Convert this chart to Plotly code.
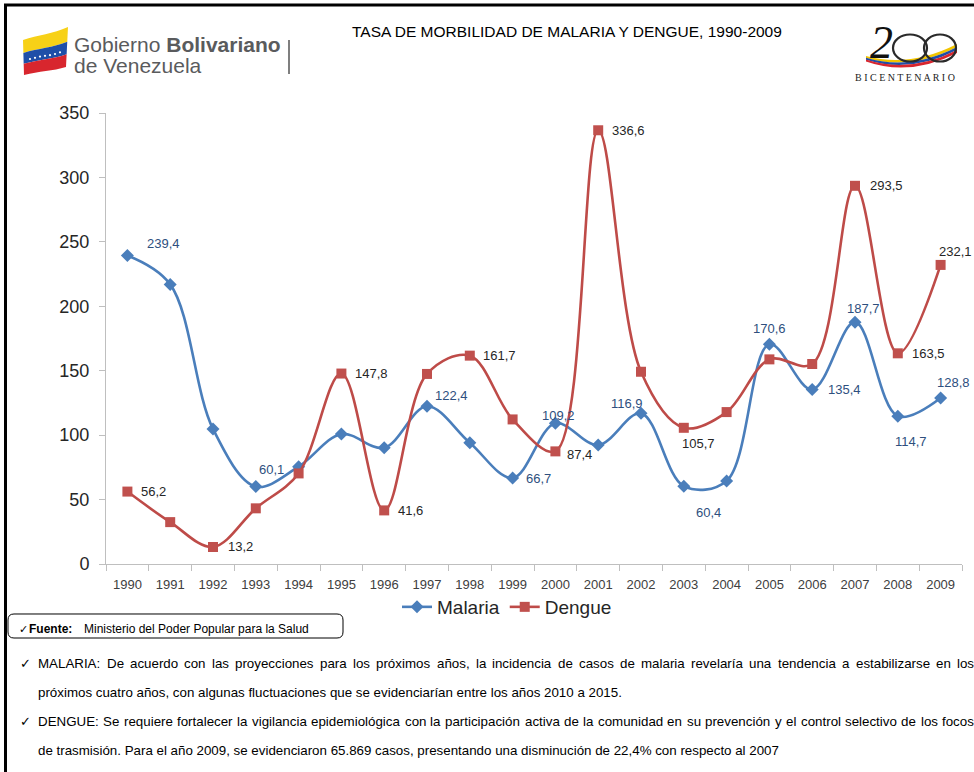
import plotly.graph_objects as go

# ---------------- data ----------------
years = [str(y) for y in range(1990, 2010)]
malaria = [239.4, 217.0, 104.8, 60.1, 75.5, 100.8, 90.2, 122.4, 94.1, 66.7,
           109.2, 92.3, 116.9, 60.4, 64.5, 170.6, 135.4, 187.7, 114.7, 128.8]
dengue = [56.2, 32.5, 13.2, 43.2, 70.3, 147.8, 41.6, 147.5, 161.7, 112.2,
          87.4, 336.6, 149.2, 105.7, 117.9, 158.8, 155.2, 293.5, 163.5, 232.1]
malaria_labeled = ['1990', '1993', '1997', '1999', '2000', '2002', '2003',
                   '2005', '2006', '2007', '2008', '2009']
dengue_labeled = ['1990', '1992', '1995', '1996', '1998', '2000', '2001',
                  '2003', '2007', '2008', '2009']

title = "TASA DE MORBILIDAD DE MALARIA Y DENGUE, 1990-2009"
fuente_label = "Fuente:"
fuente_text = "Ministerio del Poder Popular para la Salud"
notes = [
    "MALARIA: De acuerdo con las proyecciones para los próximos años, la incidencia de casos de malaria revelaría una tendencia a estabilizarse en los",
    "próximos cuatro años, con algunas fluctuaciones que se evidenciarían entre los años 2010 a 2015.",
    "DENGUE: Se requiere fortalecer la vigilancia epidemiológica con la participación activa de la comunidad en su prevención y el control selectivo de los focos",
    "de trasmisión. Para el año 2009, se evidenciaron 65.869 casos, presentando una disminución de 22,4% con respecto al 2007",
]
notes_checked = [True, False, True, False]
notes_justified = [True, False, True, False]

# ---------------- styling ----------------
W, H = 974, 772
ML, MR, MT, MB = 106, 12, 113, 208
PW, PH = W - ML - MR, H - MT - MB
BLUE = "#4A7EBB"
RED = "#BE4B48"
ARIAL = "Liberation Sans, Arial"
SERIF = "Liberation Serif, DejaVu Serif"

# label offsets (pixels: dx right, dy down)
m_off = {'1990': (36, -12), '1993': (16, -17), '1997': (24, -11), '1999': (26, 0),
         '2000': (3, -8), '2002': (-14, -10), '2003': (25, 26), '2005': (0, -16),
         '2006': (32, 0), '2007': (8, -14), '2008': (13, 25), '2009': (13, -16)}
d_off = {'1990': (26, 0), '1992': (27, 0), '1995': (30, 0), '1996': (26, 0),
         '1998': (30, 0), '2000': (24, 3), '2001': (30, 0), '2003': (15, 16),
         '2007': (31, 0), '2008': (31, 0), '2009': (15, -13)}

# Arial / Liberation Sans advance widths (1/1000 em), used to lay out justified text
CW = {' ': 278, ',': 278, '.': 278, ':': 278, '%': 889, '-': 333}
CW.update({d: 556 for d in "0123456789"})
CW.update(dict(zip("ABCDEFGHIJKLMNOPQRSTUVWXYZ",
                   [667, 667, 722, 722, 667, 611, 778, 722, 278, 500, 667, 556, 833, 722, 778, 667,
                    778, 722, 667, 611, 722, 667, 944, 667, 667, 611])))
CW.update(dict(zip("abcdefghijklmnopqrstuvwxyz",
                   [556, 556, 500, 556, 556, 278, 556, 556, 222, 222, 500, 222, 833, 556, 556, 556,
                    556, 333, 500, 278, 556, 500, 722, 500, 500, 500])))
CW.update({'á': 556, 'é': 556, 'í': 278, 'ó': 556, 'ú': 556, 'ñ': 556})


def em(s):
    return sum(CW.get(c, 556) for c in s) / 1000.0


def PX(x):
    return (x - ML) / PW


def PY(y):
    return (H - MB - y) / PH


def fmt(v):
    return f"{v:.1f}".replace('.', ',')


def txt(x, y, text, size, color="#000000", family=ARIAL, xanchor="left"):
    return dict(x=PX(x), y=PY(y), xref="paper", yref="paper", xanchor=xanchor, yanchor="middle",
                text=text, showarrow=False, font=dict(family=family, size=size, color=color))


fig = go.Figure()
fig.add_trace(go.Scatter(x=years, y=malaria, name="Malaria", mode="lines+markers",
                         line=dict(color=BLUE, width=2.6, shape="spline", smoothing=1.0),
                         marker=dict(symbol="diamond", size=10, color=BLUE)))
fig.add_trace(go.Scatter(x=years, y=dengue, name="Dengue", mode="lines+markers",
                         line=dict(color=RED, width=2.6, shape="spline", smoothing=1.0),
                         marker=dict(symbol="square", size=10, color="#C0504D")))

ann = []
for i, (yr, v) in enumerate(zip(years, malaria)):
    if yr in malaria_labeled:
        dx, dy = m_off[yr]
        ann.append(dict(x=i, y=v, xref="x", yref="y", text=fmt(v), showarrow=False,
                        xanchor="center", yanchor="middle", xshift=dx, yshift=-dy,
                        font=dict(family=ARIAL, size=13, color="#2E4F7E")))
for i, (yr, v) in enumerate(zip(years, dengue)):
    if yr in dengue_labeled:
        dx, dy = d_off[yr]
        ann.append(dict(x=i, y=v, xref="x", yref="y", text=fmt(v), showarrow=False,
                        xanchor="center", yanchor="middle", xshift=dx, yshift=-dy,
                        font=dict(family=ARIAL, size=13, color="#262626")))

# title
ann.append(txt(567, 32, title, 15.5, "#000000", xanchor="center"))
# header logo texts
ann.append(txt(72, 45, "Gobierno <b>Bolivariano</b>", 21, "#5A5B5D"))
ann.append(txt(72, 66, "de Venezuela", 21, "#5A5B5D"))
# bicentenario
ann.append(txt(881, 43, "<i>2</i>", 46, "#111111", family=SERIF, xanchor="center"))
ann.append(txt(904.5, 78, "B I C E N T E N A R I O", 10, "#222222", family=SERIF, xanchor="center"))

# fuente
ann.append(txt(17, 629, "✓", 11, "#000000"))
ann.append(txt(27, 629, "<b>" + fuente_label + "</b>", 12, "#000000"))
ann.append(txt(82, 629, fuente_text, 225 / em(fuente_text), "#000000"))

# notes (justified lines laid out word by word)
NOTE_SIZE = 741 / em(notes[3])
LEFT, RIGHT = 36, 972
note_y = [663, 692, 721, 750]
for t, y, chk, just in zip(notes, note_y, notes_checked, notes_justified):
    if chk:
        ann.append(txt(18, y, "✓", 13, "#000000"))
    if not just:
        ann.append(txt(LEFT, y, t, NOTE_SIZE))
        continue
    words = t.split(" ")
    wpx = [em(w) * NOTE_SIZE for w in words]
    gap = (RIGHT - LEFT - sum(wpx)) / (len(words) - 1)
    x = LEFT
    for w, wp in zip(words, wpx):
        ann.append(txt(x, y, w, NOTE_SIZE))
        x += wp + gap

shapes = []
# page border (top and left)
shapes.append(dict(type="line", xref="paper", yref="paper", x0=PX(4), x1=PX(974), y0=PY(5), y1=PY(5),
                   line=dict(color="#000000", width=3)))
shapes.append(dict(type="line", xref="paper", yref="paper", x0=PX(5.5), x1=PX(5.5), y0=PY(4), y1=PY(772),
                   line=dict(color="#000000", width=3)))
# separator
shapes.append(dict(type="line", xref="paper", yref="paper", x0=PX(289), x1=PX(289), y0=PY(40), y1=PY(74),
                   line=dict(color="#555555", width=1.5)))


def pth(cmds):
    out = []
    for c in cmds:
        if isinstance(c, str):
            out.append(c)
        else:
            out.append(f"{PX(c[0]):.5f},{PY(c[1]):.5f}")
    return " ".join(out)


def lerp(a, b, t):
    return (a[0] + (b[0] - a[0]) * t, a[1] + (b[1] - a[1]) * t)


# flag (three bands)
top = [(23, 40), (38, 35), (53, 34), (68, 27)]
bot = [(24, 75), (39, 71), (53, 71), (66, 67)]
for i, (col, t0, t1) in enumerate([("#F7D117", 0, 0.37), ("#1F4FA8", 0.37, 0.68), ("#D8262E", 0.68, 1)]):
    u = [lerp(top[k], bot[k], t0) for k in range(4)]
    d = [lerp(top[k], bot[k], t1) for k in range(4)]
    p = pth(["M", u[0], "C", u[1], u[2], u[3], "L", d[3], "C", d[2], d[1], d[0], "Z"])
    shapes.append(dict(type="path", xref="paper", yref="paper", path=p,
                       fillcolor=col, line=dict(width=0)))
for (sx, sy) in [(30, 59), (35, 57.8), (40, 56.6), (45, 55.8), (50, 55.2), (55, 54), (60, 52.3)]:
    shapes.append(dict(type="circle", xref="paper", yref="paper", x0=PX(sx - 1.1), x1=PX(sx + 1.1),
                       y0=PY(sy - 1.1), y1=PY(sy + 1.1), fillcolor="white", line=dict(width=0)))

# bicentenario zeros and swoosh
for col, off in [("#F2C500", 0), ("#1F4FA8", 3), ("#D8262E", 6)]:
    p = pth(["M", (866, 56 + off * 0.6), "Q", (910, 68 + off), (957, 44 + off), "L", (957, 47 + off),
             "Q", (910, 71 + off), (866, 58 + off * 0.6), "Z"])
    shapes.append(dict(type="path", xref="paper", yref="paper", path=p, fillcolor=col,
                       line=dict(width=0)))
for (cx, cy, rx, ry) in [(910, 48, 17, 13.5), (940, 48, 16, 13.5)]:
    shapes.append(dict(type="circle", xref="paper", yref="paper", x0=PX(cx - rx), x1=PX(cx + rx),
                       y0=PY(cy - ry), y1=PY(cy + ry), line=dict(color="#2A2A2A", width=2.2)))

# fuente rounded box
r = 6
x0, x1, y0, y1 = 8, 343, 614, 638
p = pth(["M", (x0 + r, y0), "L", (x1 - r, y0), "Q", (x1, y0), (x1, y0 + r), "L", (x1, y1 - r),
         "Q", (x1, y1), (x1 - r, y1), "L", (x0 + r, y1), "Q", (x0, y1), (x0, y1 - r),
         "L", (x0, y0 + r), "Q", (x0, y0), (x0 + r, y0), "Z"])
shapes.append(dict(type="path", xref="paper", yref="paper", path=p, line=dict(color="#000000", width=1)))

fig.update_layout(
    width=W, height=H, margin=dict(l=ML, r=MR, t=MT, b=MB, autoexpand=False),
    paper_bgcolor="white", plot_bgcolor="white",
    showlegend=True,
    legend=dict(orientation="h", xref="container", yref="container", x=507 / W, xanchor="center",
                y=1 - 607 / H, yanchor="middle", font=dict(family=ARIAL, size=19, color="#262626"),
                bgcolor="rgba(0,0,0,0)", itemwidth=30),
    xaxis=dict(type="category", range=[-0.5, 19.5], showline=True, linecolor="#BFBFBF", linewidth=1,
               ticks="outside", ticklen=6, tickcolor="#BFBFBF", tickson="boundaries", showgrid=False,
               tickfont=dict(family=ARIAL, size=13, color="#404040"), ticklabelstandoff=8),
    yaxis=dict(range=[0, 350], dtick=50, showline=True, linecolor="#BFBFBF", linewidth=1,
               ticks="outside", ticklen=6, tickcolor="#BFBFBF", showgrid=False, zeroline=False,
               tickfont=dict(family=ARIAL, size=18, color="#262626"), ticklabelstandoff=6),
    annotations=ann, shapes=shapes,
)

fig.write_html("out.html", config={"displayModeBar": False},
               post_script="document.body.style.margin='0';document.body.style.padding='0';")
